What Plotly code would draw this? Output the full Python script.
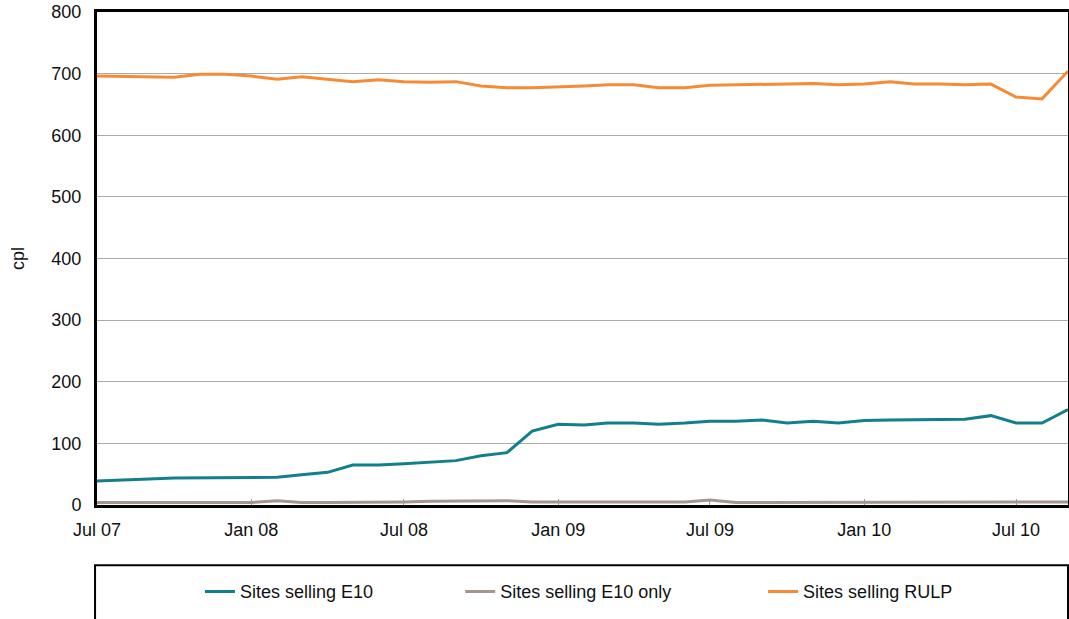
import plotly.graph_objects as go

# monthly, Jul 2007 .. Sep 2010
months = ["2007-07", "2007-08", "2007-09", "2007-10", "2007-11", "2007-12",
          "2008-01", "2008-02", "2008-03", "2008-04", "2008-05", "2008-06",
          "2008-07", "2008-08", "2008-09", "2008-10", "2008-11", "2008-12",
          "2009-01", "2009-02", "2009-03", "2009-04", "2009-05", "2009-06",
          "2009-07", "2009-08", "2009-09", "2009-10", "2009-11", "2009-12",
          "2010-01", "2010-02", "2010-03", "2010-04", "2010-05", "2010-06",
          "2010-07", "2010-08", "2010-09"]

e10 = [39, 40, 42, 44, 44, 45, 45, 45, 49, 53, 65, 65, 67, 70, 72, 80, 85, 120, 131, 130,
       133, 133, 131, 133, 136, 136, 138, 133, 136, 133, 137, 138, 138, 139, 139, 145, 133, 133, 155]
e10_only = [4, 4, 4, 4, 4, 4, 4, 7, 4, 4, 4, 4, 5, 6, 6, 6, 7, 5, 5, 5,
            4, 4, 5, 5, 8, 4, 4, 4, 4, 4, 4, 4, 5, 5, 4, 5, 5, 4, 5]
rulp = [696, 695, 695, 694, 699, 699, 696, 691, 695, 691, 687, 690, 687, 686, 687, 680, 677, 677, 678, 680,
        682, 682, 677, 677, 681, 682, 683, 683, 684, 682, 683, 687, 683, 683, 682, 683, 662, 659, 704]

tick_dates = ["2007-07", "2008-01", "2008-07", "2009-01", "2009-07", "2010-01", "2010-07"]
tick_text = ["Jul 07", "Jan 08", "Jul 08", "Jan 09", "Jul 09", "Jan 10", "Jul 10"]

FONT = "Liberation Sans, Arial, sans-serif"

fig = go.Figure()
fig.add_trace(go.Scatter(x=months, y=e10, mode="lines", name="Sites selling E10",
                         line=dict(color="#127f8e", width=3), legend="legend"))
fig.add_trace(go.Scatter(x=months, y=e10_only, mode="lines", name="Sites selling E10 only",
                         line=dict(color="#a3968f", width=3), legend="legend2"))
fig.add_trace(go.Scatter(x=months, y=rulp, mode="lines", name="Sites selling RULP",
                         line=dict(color="#f78b35", width=3), legend="legend3"))

# box round the legend row
fig.add_shape(type="rect", xref="paper", yref="paper", x0=-0.002, x1=1, y0=-0.122, y1=-0.3,
              line=dict(color="black", width=2), fillcolor="rgba(0,0,0,0)")

leg = dict(orientation="h", yanchor="middle", y=-0.176, xanchor="left",
           font=dict(family=FONT, size=18, color="#111"), bgcolor="rgba(0,0,0,0)")
fig.update_layout(
    width=1069, height=619,
    margin=dict(l=97, r=1, t=12, b=114, autoexpand=False),
    paper_bgcolor="white", plot_bgcolor="white",
    font=dict(family=FONT, size=18, color="#111"),
    showlegend=True,
    legend=dict(leg, x=0.106),
    legend2=dict(leg, x=0.374),
    legend3=dict(leg, x=0.686),
    xaxis=dict(type="date", range=["2007-07-01", "2010-09-01"], tickvals=tick_dates, ticktext=tick_text,
               ticks="inside", ticklen=6, tickcolor="#999", tickwidth=1,
               showgrid=False, showline=True, linecolor="black", linewidth=3, mirror=True,
               ticklabelstandoff=6, zeroline=False, automargin=False),
    yaxis=dict(range=[0, 800], dtick=100, showgrid=True, gridcolor="#aaaaaa", gridwidth=1,
               showline=True, linecolor="black", linewidth=3, mirror=True, zeroline=False,
               ticks="", ticklabelstandoff=9, automargin=False,
               title=dict(text="cpl", standoff=23, font=dict(size=18))),
)

# drop the page's default body margin so the figure sits at the window's corner
fig.write_html("out.html", config={"displayModeBar": False},
               post_script="document.body.style.margin='0';document.body.style.overflow='hidden';")
